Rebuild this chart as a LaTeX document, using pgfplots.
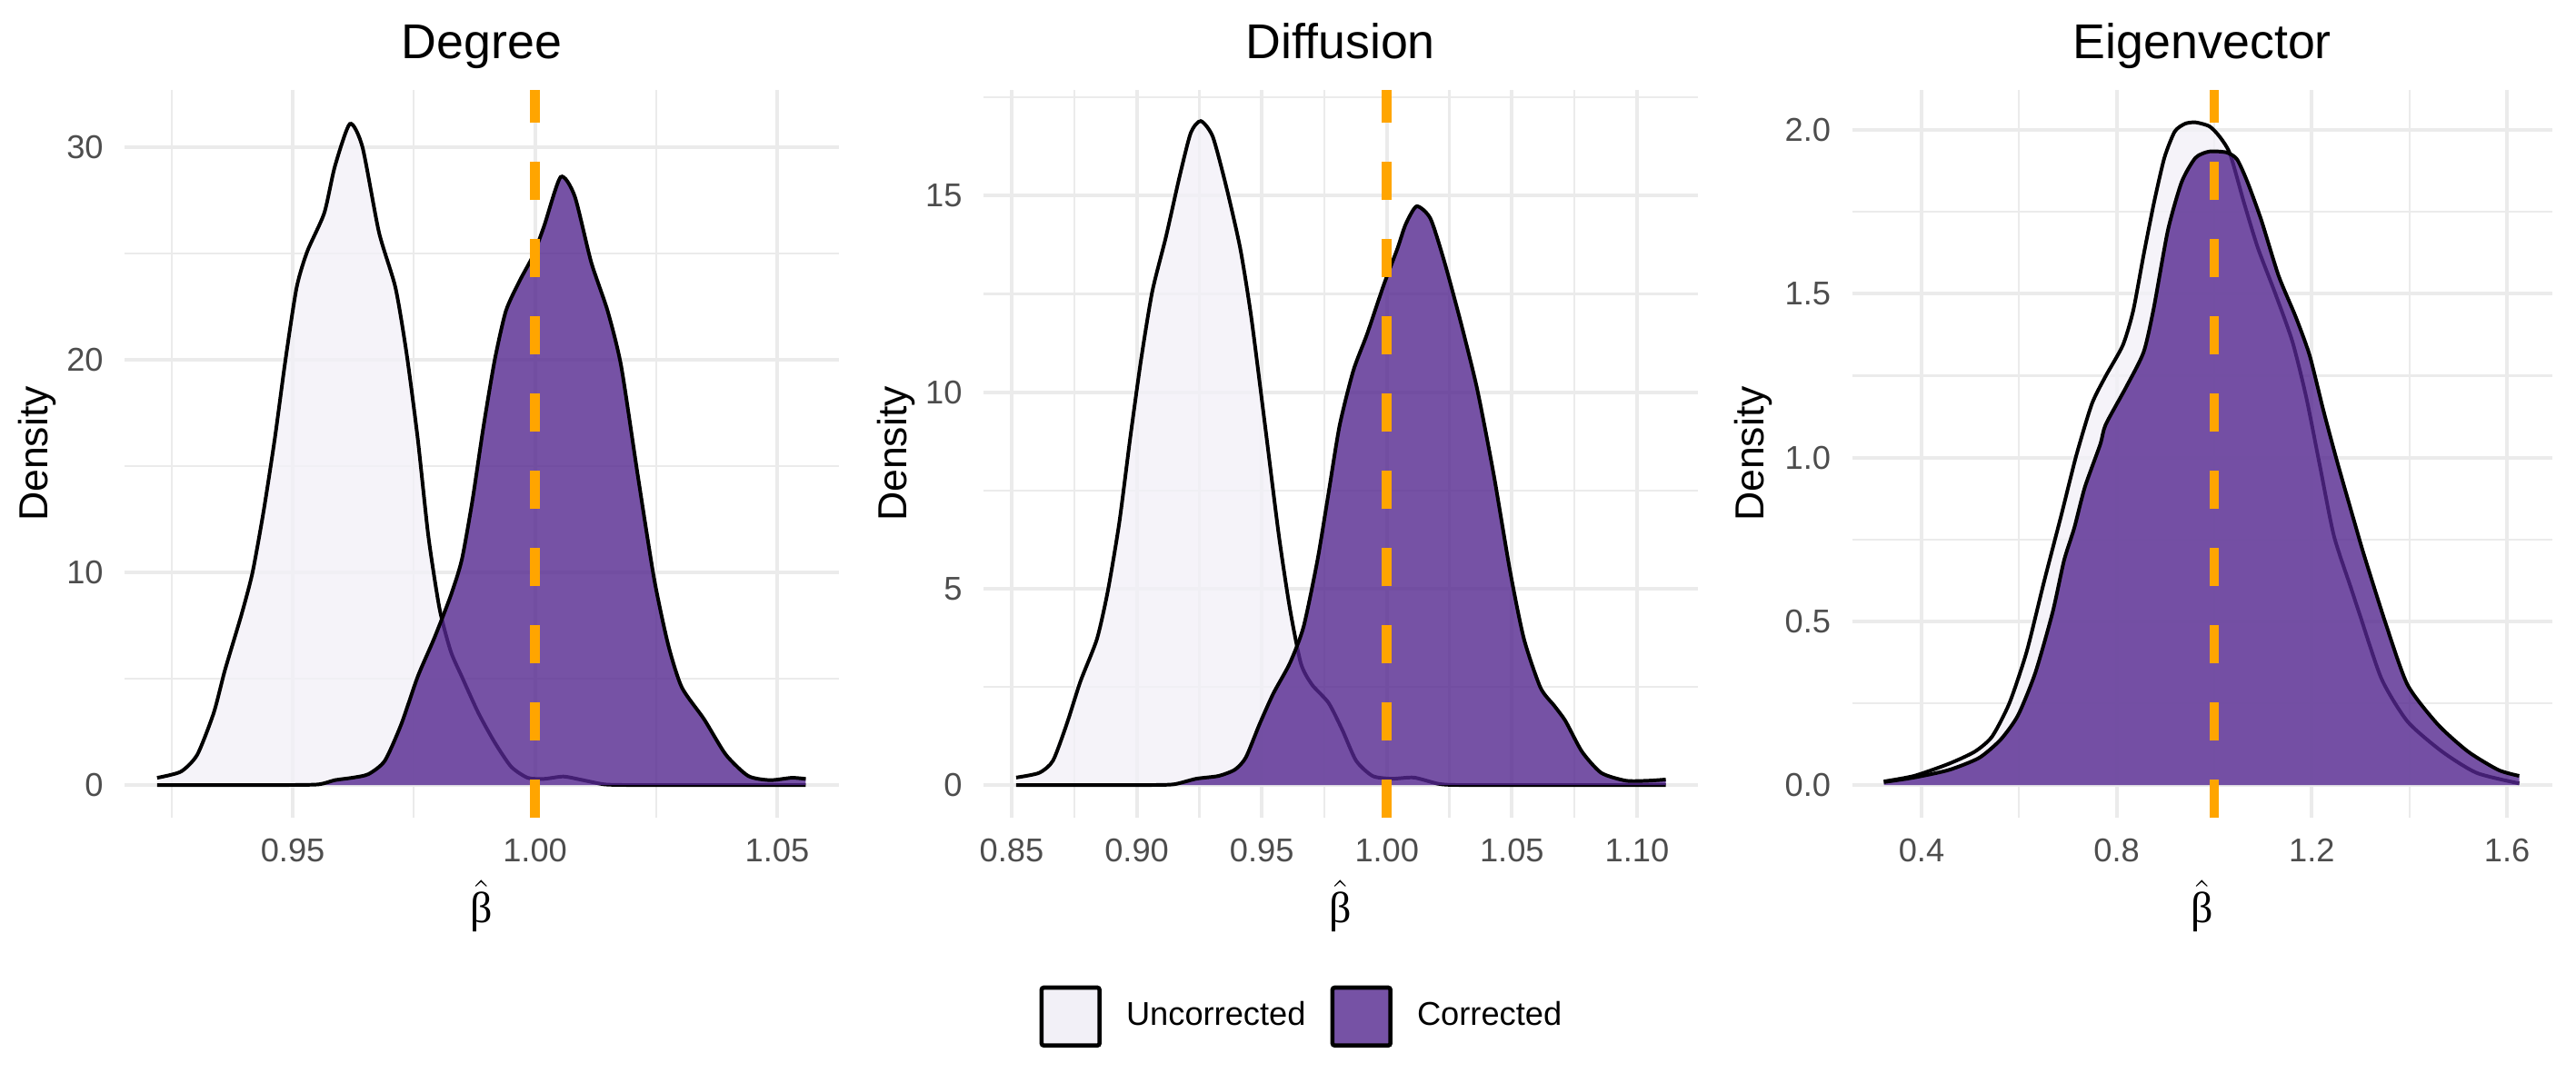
\documentclass[border=0pt]{standalone}
\usepackage{pgfplots}
\pgfplotsset{compat=1.18}
\usepackage{pgfplotstable}
\usepackage{fontspec}
\setmainfont{Liberation Sans}
\newfontfamily\grk{Liberation Serif}
\definecolor{uncfill}{HTML}{F2F0F7}
\definecolor{corfill}{HTML}{54278F}
\definecolor{gridc}{HTML}{EBEBEB}
\definecolor{tickc}{HTML}{4D4D4D}
\definecolor{vline}{HTML}{FFA500}

\pgfplotstableread{
x y
0.9220 0.34
0.9269 0.63
0.9303 1.43
0.9337 3.4
0.9360 5.4
0.9394 8.0
0.9417 10.0
0.9440 12.9
0.9463 16.3
0.9485 20.0
0.9508 23.4
0.9530 25.1
0.9565 26.9
0.9587 29.1
0.9618 31.1
0.9644 30.0
0.9678 26.0
0.9712 23.4
0.9735 20.3
0.9758 16.3
0.9780 11.7
0.9803 8.3
0.9826 6.3
0.9849 5.1
0.9883 3.4
0.9917 2.0
0.9951 0.86
0.9985 0.34
1.0019 0.29
1.0059 0.40
1.0099 0.23
1.0144 0.03
1.0200 0.0
1.0350 0.0
1.0559 0.0
}\degUnc
\pgfplotstableread{
x y
0.9220 0
0.9350 0
0.9480 0
0.9553 0.03
0.9587 0.23
0.9622 0.34
0.9656 0.51
0.9690 1.14
0.9724 2.86
0.9758 5.1
0.9792 6.9
0.9826 8.9
0.9849 10.6
0.9871 13.4
0.9894 16.9
0.9917 20.0
0.9940 22.3
0.9968 23.7
0.9996 24.9
1.0019 26.3
1.0053 28.6
1.0082 27.7
1.0116 24.6
1.0150 22.3
1.0178 19.7
1.0212 14.6
1.0246 9.7
1.0275 6.6
1.0303 4.6
1.0349 3.1
1.0394 1.43
1.0440 0.43
1.0485 0.23
1.0530 0.34
1.0559 0.29
}\degCor
\pgfplotstableread{
x y
0.8518 0.19
0.8610 0.31
0.8665 0.62
0.8720 1.55
0.8775 2.64
0.8841 3.72
0.8885 4.96
0.8930 6.67
0.8974 8.84
0.9018 10.86
0.9062 12.56
0.9117 13.96
0.9172 15.51
0.9216 16.6
0.9256 16.9
0.9304 16.5
0.9359 15.2
0.9414 13.65
0.9458 11.9
0.9513 9.15
0.9568 6.36
0.9612 4.5
0.9656 3.1
0.9700 2.56
0.9767 2.09
0.9822 1.4
0.9877 0.62
0.9943 0.23
1.0020 0.16
1.0108 0.19
1.0207 0.03
1.0295 0.0
1.0700 0.0
1.1115 0.0
}\difUnc
\pgfplotstableread{
x y
0.8518 0
0.8800 0
0.9050 0
0.9150 0.02
0.9238 0.16
0.9326 0.23
0.9392 0.39
0.9436 0.70
0.9491 1.55
0.9546 2.33
0.9612 3.10
0.9667 4.03
0.9723 5.74
0.9767 7.44
0.9811 9.15
0.9866 10.55
0.9921 11.48
0.9987 12.72
1.0042 13.65
1.0075 14.27
1.0119 14.73
1.0174 14.42
1.0229 13.34
1.0295 11.79
1.0361 10.08
1.0427 7.91
1.0493 5.43
1.0548 3.72
1.0614 2.48
1.0669 2.02
1.0714 1.63
1.0780 0.85
1.0857 0.31
1.0956 0.11
1.1044 0.11
1.1115 0.14
}\difCor
\pgfplotstableread{
x y
0.3228 0.011
0.3849 0.028
0.4559 0.065
0.5091 0.102
0.5446 0.148
0.5801 0.250
0.6155 0.407
0.6510 0.620
0.6865 0.824
0.7170 1.005
0.7490 1.163
0.7773 1.248
0.8127 1.343
0.8340 1.449
0.8553 1.619
0.8765 1.778
0.8978 1.915
0.9190 1.995
0.9403 2.019
0.9616 2.023
0.9900 2.011
1.0112 1.979
1.0325 1.926
1.0609 1.778
1.0893 1.640
1.1247 1.502
1.1601 1.354
1.1885 1.184
1.2168 0.972
1.2452 0.761
1.2806 0.600
1.2985 0.519
1.3429 0.324
1.3961 0.194
1.4671 0.102
1.5380 0.037
1.6250 0.005
}\eigUnc
\pgfplotstableread{
x y
0.3228 0.009
0.3849 0.023
0.4559 0.046
0.5180 0.083
0.5623 0.139
0.5978 0.213
0.6333 0.343
0.6688 0.528
0.6922 0.686
0.7131 0.785
0.7347 0.909
0.7663 1.040
0.7773 1.100
0.8198 1.216
0.8553 1.322
0.8765 1.460
0.9049 1.693
0.9332 1.841
0.9616 1.915
0.9900 1.934
1.0254 1.931
1.0467 1.910
1.0680 1.841
1.0963 1.725
1.1318 1.555
1.1673 1.428
1.1956 1.311
1.2240 1.142
1.2523 0.985
1.2878 0.800
1.3074 0.700
1.3518 0.491
1.3961 0.306
1.4582 0.185
1.5203 0.102
1.5824 0.046
1.6250 0.028
}\eigCor

\pgfplotsset{
  panel/.style={
    scale only axis,
    height=192.4pt,
    axis line style={draw=none},
    major tick length=0pt, minor tick length=0pt,
    grid=both,
    major grid style={gridc, line width=0.95pt},
    minor grid style={gridc, line width=0.55pt},
    tick label style={font=\fontsize{8.7}{10}\selectfont, text=tickc},
    xticklabel style={anchor=base, yshift=-11.6pt},
    yticklabel style={anchor=east, xshift=-2.1pt},
    title style={at={(axis description cs:0.5,1)}, anchor=base, yshift=2.3pt, font=\fontsize{12.9}{15}\selectfont},
    xlabel style={at={(axis description cs:0.5,0)}, anchor=center, yshift=-23.2pt, font=\fontsize{11.5}{13}\selectfont},
    ylabel style={anchor=center, font=\fontsize{10.7}{13}\selectfont},
    xlabel={$\hat{\hbox{\grk β}}$},
    ylabel={Density},
  },
  uncf/.style={draw=none, fill=uncfill, fill opacity=0.8, smooth, tension=0.4, forget plot},
  uncl/.style={black, line width=0.95pt, smooth, tension=0.4, forget plot},
  corf/.style={draw=none, fill=corfill, fill opacity=0.8, smooth, tension=0.4, forget plot},
  corl/.style={black, line width=0.95pt, smooth, tension=0.4, forget plot},
  vl/.style={vline, line width=2.56pt, dash pattern=on 10.2pt off 10.2pt, forget plot},
  legkey/.style={legend image code/.code={\draw[##1, draw=black, line width=1.1pt, rounded corners=0.6pt] (0.55pt,-7.65pt) rectangle (15.85pt,7.65pt);}},
}

\begin{document}
\begin{tikzpicture}
\useasboundingbox (0,0) rectangle (680pt,283.37pt);

\begin{axis}[panel, at={(32.9pt,67.3pt)}, anchor=south west, width=188.5pt,
  title={Degree},
  xmin=0.9153, xmax=1.0627, ymin=-1.557, ymax=32.71,
  xtick={0.95,1.00,1.05}, xticklabels={0.95,1.00,1.05},
  minor xtick={0.925,0.975,1.025},
  ytick={0,10,20,30}, yticklabels={0,10,20,30},
  minor ytick={5,15,25},
  ylabel style={at={(axis description cs:-0.122,0.5)}},
]
\addplot[uncf] table {\degUnc} \closedcycle;
\addplot[uncl] table {\degUnc};
\addplot[corf] table {\degCor} \closedcycle;
\addplot[corl] table {\degCor};
\addplot[vl] coordinates {(1,-1.557) (1,32.71)};
\end{axis}

\begin{axis}[panel, at={(259.6pt,67.3pt)}, anchor=south west, width=188.5pt,
  title={Diffusion},
  xmin=0.8387, xmax=1.1242, ymin=-0.843, ymax=17.70,
  xtick={0.85,0.90,0.95,1.00,1.05,1.10}, xticklabels={0.85,0.90,0.95,1.00,1.05,1.10},
  minor xtick={0.875,0.925,0.975,1.025,1.075},
  ytick={0,5,10,15}, yticklabels={0,5,10,15},
  minor ytick={2.5,7.5,12.5,17.5},
  ylabel style={at={(axis description cs:-0.1225,0.5)}},
  legend columns=2,
  legend style={at={(axis description cs:0.0785,-0.2723)}, anchor=west, draw=none, fill=none,
    inner sep=0pt, outer sep=0pt, font=\fontsize{8.7}{10}\selectfont,
    nodes={inner sep=0pt},
    /tikz/every odd column/.append style={column sep=6.5pt},
    /tikz/every even column/.append style={column sep=6.5pt}},
  legend cell align=left,
]
\addlegendimage{legkey, fill=uncfill}
\addlegendentry{Uncorrected}
\addlegendimage{legkey, fill=corfill, fill opacity=0.8}
\addlegendentry{Corrected}
\addplot[uncf] table {\difUnc} \closedcycle;
\addplot[uncl] table {\difUnc};
\addplot[corf] table {\difCor} \closedcycle;
\addplot[corl] table {\difCor};
\addplot[vl] coordinates {(1,-0.843) (1,17.70)};
\end{axis}

\begin{axis}[panel, at={(488.9pt,67.3pt)}, anchor=south west, width=184.9pt,
  title={Eigenvector},
  xmin=0.2577, xmax=1.6933, ymin=-0.101, ymax=2.123,
  xtick={0.4,0.8,1.2,1.6}, xticklabels={0.4,0.8,1.2,1.6},
  minor xtick={0.6,1.0,1.4},
  ytick={0,0.5,1,1.5,2}, yticklabels={0.0,0.5,1.0,1.5,2.0},
  minor ytick={0.25,0.75,1.25,1.75},
  ylabel style={at={(axis description cs:-0.1406,0.5)}},
]
\addplot[uncf] table {\eigUnc} \closedcycle;
\addplot[uncl] table {\eigUnc};
\addplot[corf] table {\eigCor} \closedcycle;
\addplot[corl] table {\eigCor};
\addplot[vl] coordinates {(1,-0.101) (1,2.123)};
\end{axis}
\end{tikzpicture}
\end{document}
